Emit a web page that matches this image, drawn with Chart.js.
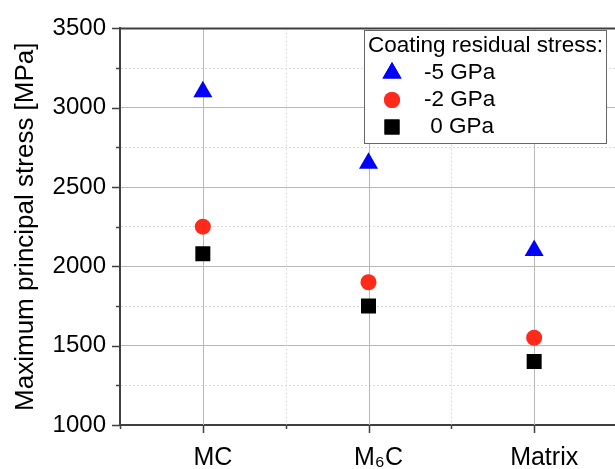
<!DOCTYPE html>
<html>
<head>
<meta charset="utf-8">
<script src="https://cdn.jsdelivr.net/npm/chart.js@4"></script>
<style>
  html, body { margin: 0; padding: 0; background: #fff; }
  #wrap { width: 615px; height: 469px; }
</style>
</head>
<body>
<div id="wrap"><canvas id="myChart" width="615" height="469"></canvas></div>
<script>
// categories on the x axis (placed at x = 1, 2, 3)
const categories = ['MC', 'M\u2086C', 'Matrix'];
const seriesLabels = ['-5 GPa', '-2 GPa', ' 0 GPa'];
const stressMinus5 = [3100, 2650, 2100];
const stressMinus2 = [2250, 1900, 1550];
const stressZero = [2080, 1750, 1400];
const legendTitle = 'Coating residual stress:';
const yTitle = 'Maximum principal stress [MPa]';

const FONT = "'Liberation Sans', Arial, sans-serif";

const toPoints = vals => vals.map((v, i) => ({ x: i + 1, y: v }));

// majors solid, minors dotted and with shorter tick marks
const isMajorY = v => v % 500 === 0;
const isMajorX = v => Number.isInteger(v);
const isHalfStep = v => Math.abs(v * 2 - Math.round(v * 2)) < 1e-6;

// vertical grid lines from the x scale ticks
const xGrid = {
  id: 'xGrid',
  beforeDatasetsDraw(chart) {
    const { ctx, chartArea } = chart;
    const xs = chart.scales.x;
    ctx.save();
    ctx.lineWidth = 1;
    xs.ticks.forEach(t => {
      if (t.value <= 0.5 || !isHalfStep(t.value)) return;
      const x = Math.round(xs.getPixelForValue(t.value)) + 0.5;
      if (x > chart.width) return;
      ctx.strokeStyle = isMajorX(t.value) ? '#b8b8b8' : '#dcdcdc';
      ctx.setLineDash(isMajorX(t.value) ? [] : [2, 2]);
      ctx.beginPath();
      ctx.moveTo(x, chartArea.top);
      ctx.lineTo(x, chartArea.bottom);
      ctx.stroke();
    });
    ctx.restore();
  }
};

const axisTicks = {
  id: 'axisTicks',
  afterDraw(chart) {
    const { ctx, chartArea } = chart;
    const xs = chart.scales.x, ys = chart.scales.y;
    ctx.save();
    ctx.strokeStyle = '#404040';
    ctx.lineWidth = 1.5;
    ctx.beginPath();
    ys.ticks.forEach(t => {
      const y = Math.round(ys.getPixelForValue(t.value)) + 0.5;
      const len = isMajorY(t.value) ? 8 : 4;
      ctx.moveTo(chartArea.left, y);
      ctx.lineTo(chartArea.left - len, y);
    });
    xs.ticks.forEach(t => {
      if (!isHalfStep(t.value)) return;
      const x = Math.round(xs.getPixelForValue(t.value)) + 0.5;
      const len = isMajorX(t.value) ? 8 : 4;
      ctx.moveTo(x, chartArea.bottom);
      ctx.lineTo(x, chartArea.bottom + len);
    });
    ctx.stroke();
    // top frame line
    ctx.lineWidth = 2;
    ctx.beginPath();
    ctx.moveTo(chartArea.left - 1, chartArea.top);
    ctx.lineTo(chart.width, chartArea.top);
    ctx.stroke();
    ctx.restore();
  }
};

// boxed legend with a title, drawn from the datasets
const boxLegend = {
  id: 'boxLegend',
  afterDraw(chart) {
    const { ctx } = chart;
    const bx = 364, by = 30, bw = 242, bh = 113;
    ctx.save();
    ctx.fillStyle = '#fff';
    ctx.fillRect(bx, by, bw, bh);
    ctx.strokeStyle = '#666';
    ctx.lineWidth = 1;
    ctx.strokeRect(bx + 0.5, by + 0.5, bw, bh);
    ctx.fillStyle = '#000';
    ctx.font = '22.5px ' + FONT;
    ctx.textBaseline = 'middle';
    ctx.fillText(legendTitle, bx + 4, by + 16);
    chart.data.datasets.forEach((ds, i) => {
      const cy = by + 43 + i * 27;
      ctx.fillStyle = ds.backgroundColor;
      Chart.helpers.drawPoint(ctx, {
        pointStyle: ds.pointStyle, radius: ds.pointRadius, rotation: 0, borderWidth: 0
      }, bx + 28, cy);
      ctx.fill();
      ctx.fillStyle = '#000';
      ctx.fillText(ds.label, bx + 60, cy);
    });
    ctx.restore();
  }
};

const ctx = document.getElementById('myChart');
new Chart(ctx, {
  type: 'scatter',
  data: {
    datasets: [
      { label: seriesLabels[0], data: toPoints(stressMinus5), pointStyle: 'triangle', pointRadius: 11,
        backgroundColor: '#0000ff', borderWidth: 0 },
      { label: seriesLabels[1], data: toPoints(stressMinus2), pointStyle: 'circle', pointRadius: 8,
        backgroundColor: '#ff2a1a', borderWidth: 0 },
      { label: seriesLabels[2], data: toPoints(stressZero), pointStyle: 'rect', pointRadius: 10.6,
        backgroundColor: '#000000', borderWidth: 0 }
    ]
  },
  options: {
    responsive: false,
    animation: false,
    layout: { autoPadding: false, padding: { top: 25, right: 0, left: 0, bottom: 0 } },
    plugins: { legend: { display: false }, tooltip: { enabled: false } },
    elements: { point: { hoverRadius: 0 } },
    scales: {
      x: {
        type: 'linear',
        min: 0.5,
        max: 0.5 + 495 / (497 / 3),
        afterFit: s => { s.height = 44; },
        ticks: {
          stepSize: 0.5,
          includeBounds: false,
          autoSkip: false,
          maxRotation: 0,
          padding: 18,
          labelOffset: 10,
          color: '#000',
          font: { family: FONT, size: 25 },
          callback: v => (Number.isInteger(v) ? categories[v - 1] : '')
        },
        grid: { display: false, drawTicks: false },
        border: { display: true, color: '#404040', width: 2 }
      },
      y: {
        min: 1000,
        max: 3500,
        afterFit: s => { s.width = 120; },
        ticks: {
          stepSize: 250,
          autoSkip: false,
          padding: 14,
          color: '#000',
          font: { family: FONT, size: 24 },
          callback: v => (isMajorY(v) ? String(v) : '')
        },
        grid: {
          drawTicks: false,
          lineWidth: 1,
          color: c => (c.tick && c.tick.value > 1000 && c.tick.value < 3500
            ? (isMajorY(c.tick.value) ? '#b8b8b8' : '#dcdcdc') : 'rgba(0,0,0,0)')
        },
        border: {
          color: '#404040', width: 2,
          dash: c => (c.tick && !isMajorY(c.tick.value) ? [2, 2] : [])
        },
        title: {
          display: true,
          text: yTitle,
          color: '#000',
          font: { family: FONT, size: 26 },
          padding: { top: 10, bottom: 0 }
        }
      }
    }
  },
  plugins: [xGrid, axisTicks, boxLegend]
});
</script>
</body>
</html>
